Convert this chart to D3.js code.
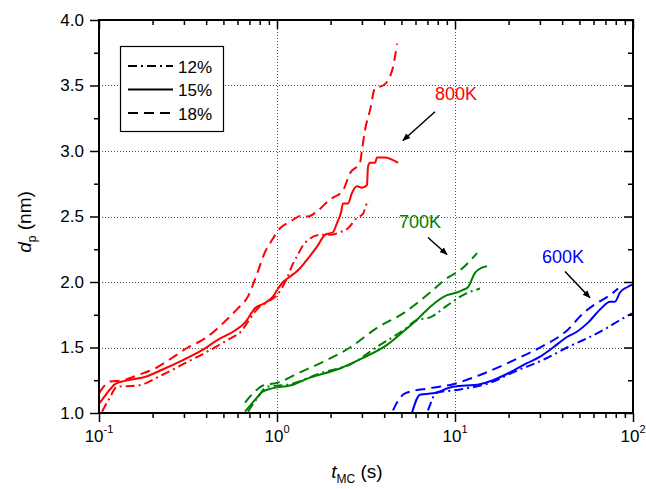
<!DOCTYPE html>
<html>
<head>
<meta charset="utf-8">
<script src="https://cdn.jsdelivr.net/npm/d3@7/dist/d3.min.js"></script>
<style>
  html, body { margin: 0; padding: 0; background: #fff; }
  svg { display: block; font-family: "Liberation Sans", Arial, sans-serif; }
</style>
</head>
<body>
<svg id="chart" width="646" height="489"></svg>
<script>
// Particle diameter d_p (nm) versus Monte Carlo time t_MC (s)
// for three temperatures and three coverages.

const xTicks = [0.1, 1, 10, 100];
const xTickExponents = ["-1", "0", "1", "2"];
const yTicks = [1.0, 1.5, 2.0, 2.5, 3.0, 3.5, 4.0];

const coverages = ["12%", "15%", "18%"];
const temperatures = ["800K", "700K", "600K"];
const temperatureColors = ["#ff0000", "#008000", "#0000ff"];

// 800 K
const t800_12 = [0.104, 0.1153, 0.126, 0.1656, 0.226, 0.304, 0.395, 0.531, 0.635, 0.705, 0.782, 0.889, 1.0, 1.138, 1.230, 1.312, 1.400, 1.494, 1.745, 1.984, 2.259, 2.505, 2.815, 3.041, 3.245, 3.329];
const d800_12 = [1.01, 1.12, 1.20, 1.21, 1.29, 1.38, 1.46, 1.56, 1.63, 1.72, 1.80, 1.85, 1.90, 2.03, 2.14, 2.21, 2.28, 2.32, 2.36, 2.36, 2.38, 2.41, 2.49, 2.52, 2.61, 2.61];
const t800_15 = [0.100, 0.108, 0.1153, 0.123, 0.140, 0.181, 0.226, 0.292, 0.379, 0.467, 0.581, 0.661, 0.724, 0.752, 0.857, 0.951, 1.014, 1.081, 1.153, 1.312, 1.494, 1.678, 1.861, 2.063, 2.173, 2.289, 2.348, 2.505, 2.638, 2.815, 3.004, 3.204, 3.245, 3.329, 3.553, 3.646, 4.044, 4.484, 4.785];
const d800_15 = [1.07, 1.13, 1.18, 1.22, 1.245, 1.275, 1.33, 1.40, 1.48, 1.56, 1.63, 1.69, 1.77, 1.80, 1.84, 1.89, 1.95, 2.00, 2.03, 2.09, 2.18, 2.27, 2.36, 2.38, 2.45, 2.53, 2.60, 2.60, 2.68, 2.73, 2.72, 2.74, 2.88, 2.91, 2.91, 2.95, 2.95, 2.93, 2.91];
const t800_18 = [0.100, 0.1153, 0.1365, 0.1656, 0.2065, 0.257, 0.316, 0.395, 0.511, 0.604, 0.687, 0.752, 0.824, 0.834, 0.938, 1.040, 1.183, 1.400, 1.494, 1.678, 1.984, 2.348, 2.572, 2.926, 3.004, 3.122, 3.329, 3.553, 3.942, 4.315, 4.484, 4.602, 4.724];
const d800_18 = [1.15, 1.24, 1.25, 1.29, 1.34, 1.42, 1.50, 1.57, 1.70, 1.80, 1.89, 2.02, 2.17, 2.19, 2.32, 2.41, 2.46, 2.51, 2.50, 2.54, 2.63, 2.70, 2.83, 2.91, 3.01, 3.16, 3.31, 3.48, 3.50, 3.57, 3.64, 3.72, 3.82];

// 700 K
const t700_12 = [0.687, 0.772, 0.879, 1.183, 1.812, 2.572, 3.79, 5.105, 6.12, 7.242, 9.02, 11.09, 13.81];
const d700_12 = [1.01, 1.11, 1.20, 1.22, 1.31, 1.37, 1.52, 1.63, 1.71, 1.73, 1.82, 1.90, 1.95];
const t700_15 = [0.661, 0.752, 0.824, 0.951, 1.183, 1.532, 2.259, 3.041, 4.150, 5.105, 6.198, 7.242, 9.02, 10.26, 11.09, 11.83, 12.95, 14.19, 15.13];
const d700_15 = [1.01, 1.10, 1.16, 1.19, 1.21, 1.27, 1.34, 1.42, 1.52, 1.62, 1.72, 1.81, 1.90, 1.92, 1.94, 1.96, 2.07, 2.11, 2.12];
const t700_18 = [0.661, 0.733, 0.834, 1.0, 1.346, 1.812, 2.572, 3.646, 5.105, 7.242, 9.02, 10.67, 13.30];
const d700_18 = [1.08, 1.15, 1.21, 1.23, 1.31, 1.39, 1.50, 1.65, 1.76, 1.92, 2.03, 2.09, 2.22];

// 600 K
const t600_12 = [7.05, 7.43, 7.72, 10.67, 15.73, 21.18, 32.9, 42.6, 55.2, 71.5, 84.5, 98.7];
const d600_12 = [1.02, 1.10, 1.15, 1.18, 1.23, 1.31, 1.42, 1.50, 1.57, 1.65, 1.71, 1.76];
const t600_15 = [5.73, 6.36, 7.52, 9.75, 13.81, 16.34, 20.37, 25.37, 30.05, 35.54, 42.6, 48.4, 55.9, 65.3, 74.3, 79.2, 84.5, 92.5, 98.7];
const d600_15 = [1.00, 1.14, 1.15, 1.20, 1.22, 1.25, 1.31, 1.38, 1.43, 1.50, 1.58, 1.62, 1.69, 1.79, 1.85, 1.85, 1.92, 1.96, 1.98];
const t600_18 = [4.484, 4.724, 5.24, 7.242, 9.75, 13.81, 21.18, 30.05, 42.6, 52.4, 62.8, 74.3, 82.4];
const d600_18 = [1.02, 1.08, 1.15, 1.19, 1.22, 1.29, 1.40, 1.50, 1.63, 1.76, 1.84, 1.90, 1.95];

// Temperature annotations: label anchor and arrow (start -> tip), in data units
const labelT = [7.72, 4.84, 30.8];
const labelD = [3.39, 2.41, 2.145];
const arrowFromT = [7.72, 7.05, 41.5];
const arrowFromD = [3.30, 2.34, 2.08];
const arrowToT = [5.10, 9.02, 57.3];
const arrowToD = [3.08, 2.21, 1.88];

const series = [
  { temp: 0, cov: 0, t: t800_12, d: d800_12 },
  { temp: 0, cov: 1, t: t800_15, d: d800_15 },
  { temp: 0, cov: 2, t: t800_18, d: d800_18 },
  { temp: 1, cov: 0, t: t700_12, d: d700_12 },
  { temp: 1, cov: 1, t: t700_15, d: d700_15 },
  { temp: 1, cov: 2, t: t700_18, d: d700_18 },
  { temp: 2, cov: 0, t: t600_12, d: d600_12 },
  { temp: 2, cov: 1, t: t600_15, d: d600_15 },
  { temp: 2, cov: 2, t: t600_18, d: d600_18 }
];

// Line style per coverage: dash-dot, solid, dashed
const dashes = ["9,4,2,4", null, "10,6"];

const margin = { left: 99, right: 13, top: 20, bottom: 76 };
const W = 646, H = 489;
const x = d3.scaleLog().domain([0.1, 100]).range([margin.left, W - margin.right]);
const y = d3.scaleLinear().domain([1.0, 4.0]).range([H - margin.bottom, margin.top]);
const x0 = x.range()[0], x1 = x.range()[1], y0 = y.range()[0], y1 = y.range()[1];

const svg = d3.select("#chart");

const defs = svg.append("defs");
defs.append("clipPath").attr("id", "plotclip")
  .append("rect").attr("x", x0).attr("y", y1).attr("width", x1 - x0).attr("height", y0 - y1);
defs.append("marker")
  .attr("id", "arrowhead").attr("viewBox", "0 0 10 10")
  .attr("refX", 9).attr("refY", 5)
  .attr("markerWidth", 8).attr("markerHeight", 8)
  .attr("markerUnits", "userSpaceOnUse")
  .attr("orient", "auto")
  .append("path").attr("d", "M0,1 L10,5 L0,9 Z").attr("fill", "#000");

// Dotted grid at major ticks
const grid = svg.append("g").attr("stroke", "#555").attr("stroke-width", 1).attr("stroke-dasharray", "1,2");
[1, 10].forEach(v => {
  grid.append("line").attr("x1", Math.round(x(v)) + 0.5).attr("x2", Math.round(x(v)) + 0.5).attr("y1", y1).attr("y2", y0);
});
yTicks.slice(1, -1).forEach(v => {
  grid.append("line").attr("x1", x0).attr("x2", x1).attr("y1", Math.round(y(v)) + 0.5).attr("y2", Math.round(y(v)) + 0.5);
});

// Data lines
const line = d3.line().x(p => x(p[0])).y(p => y(p[1])).curve(d3.curveMonotoneX);
const plot = svg.append("g").attr("clip-path", "url(#plotclip)");
series.forEach(s => {
  const pts = s.t.map((t, i) => [t, s.d[i]]);
  plot.append("path")
    .attr("d", line(pts))
    .attr("fill", "none")
    .attr("stroke", temperatureColors[s.temp])
    .attr("stroke-width", 2)
    .attr("stroke-linejoin", "round")
    .attr("stroke-dasharray", dashes[s.cov]);
});

// Axes: outward ticks bottom/left, inward mirror ticks top/right
const minorX = [];
for (let e = -1; e < 2; e++) for (let m = 2; m <= 9; m++) minorX.push(m * Math.pow(10, e));
const minorY = d3.range(1.25, 4.0, 0.5);

const axisBottomMajor = svg.append("g").attr("transform", `translate(0,${y0})`)
  .call(d3.axisBottom(x).tickValues(xTicks).tickSize(9).tickFormat(""));
const axisBottomMinor = svg.append("g").attr("transform", `translate(0,${y0})`)
  .call(d3.axisBottom(x).tickValues(minorX).tickSize(5).tickFormat(""));
const axisTopMajor = svg.append("g").attr("transform", `translate(0,${y1})`)
  .call(d3.axisBottom(x).tickValues(xTicks).tickSize(9).tickFormat(""));
const axisTopMinor = svg.append("g").attr("transform", `translate(0,${y1})`)
  .call(d3.axisBottom(x).tickValues(minorX).tickSize(5).tickFormat(""));
const axisLeftMajor = svg.append("g").attr("transform", `translate(${x0},0)`)
  .call(d3.axisLeft(y).tickValues(yTicks).tickSize(9).tickPadding(6).tickFormat(d3.format(".1f")));
const axisLeftMinor = svg.append("g").attr("transform", `translate(${x0},0)`)
  .call(d3.axisLeft(y).tickValues(minorY).tickSize(5).tickFormat(""));
const axisRightMajor = svg.append("g").attr("transform", `translate(${x1},0)`)
  .call(d3.axisLeft(y).tickValues(yTicks).tickSize(9).tickFormat(""));
const axisRightMinor = svg.append("g").attr("transform", `translate(${x1},0)`)
  .call(d3.axisLeft(y).tickValues(minorY).tickSize(5).tickFormat(""));

[axisBottomMajor, axisBottomMinor, axisTopMajor, axisTopMinor,
 axisLeftMajor, axisLeftMinor, axisRightMajor, axisRightMinor].forEach(g => {
  g.select(".domain").remove();
  g.selectAll(".tick line").attr("stroke", "#000").attr("stroke-width", 1.5);
});
axisLeftMajor.selectAll(".tick text").attr("font-size", 17).attr("fill", "#000")
  .attr("font-family", "Liberation Sans, Arial, sans-serif");

// Frame
svg.append("rect").attr("x", x0).attr("y", y1).attr("width", x1 - x0).attr("height", y0 - y1)
  .attr("fill", "none").attr("stroke", "#000").attr("stroke-width", 2);

// Power-of-ten tick labels
xTicks.forEach((v, i) => {
  const t = svg.append("text")
    .attr("x", x(v)).attr("y", 442)
    .attr("text-anchor", "middle").attr("font-size", 17).attr("fill", "#000");
  t.append("tspan").text("10");
  t.append("tspan").attr("dy", -9).attr("font-size", 11).text(xTickExponents[i]);
});

// Axis titles
const xt = svg.append("text").attr("x", 357).attr("y", 478).attr("text-anchor", "middle")
  .attr("font-size", 19).attr("fill", "#000");
xt.append("tspan").attr("font-style", "italic").text("t");
xt.append("tspan").attr("font-size", 12).attr("dy", 5).text("MC");
xt.append("tspan").attr("dy", -5).text(" (s)");

const yt = svg.append("text").attr("transform", "translate(31,222) rotate(-90)")
  .attr("text-anchor", "middle").attr("font-size", 19).attr("fill", "#000");
yt.append("tspan").attr("font-style", "italic").text("d");
yt.append("tspan").attr("font-size", 12).attr("dy", 5).text("p");
yt.append("tspan").attr("dy", -5).text(" (nm)");

// Temperature labels and arrows
temperatures.forEach((lab, i) => {
  svg.append("text").attr("x", x(labelT[i])).attr("y", y(labelD[i]))
    .attr("font-size", 18).attr("fill", temperatureColors[i]).text(lab);
  svg.append("line")
    .attr("x1", x(arrowFromT[i])).attr("y1", y(arrowFromD[i]))
    .attr("x2", x(arrowToT[i])).attr("y2", y(arrowToD[i]))
    .attr("stroke", "#000").attr("stroke-width", 1.5)
    .attr("marker-end", "url(#arrowhead)");
});

// Legend
const lg = svg.append("g");
lg.append("rect").attr("x", 120.5).attr("y", 46.5).attr("width", 103).attr("height", 85)
  .attr("fill", "#fff").attr("stroke", "#000").attr("stroke-width", 1.2);
coverages.forEach((c, i) => {
  const yy = 66 + i * 23.5;
  lg.append("line").attr("x1", 128).attr("x2", 173).attr("y1", yy).attr("y2", yy)
    .attr("stroke", "#000").attr("stroke-width", 2)
    .attr("stroke-dasharray", dashes[i]);
  lg.append("text").attr("x", 178).attr("y", yy + 6.5)
    .attr("font-size", 17).attr("fill", "#000").text(c);
});
</script>
</body>
</html>
